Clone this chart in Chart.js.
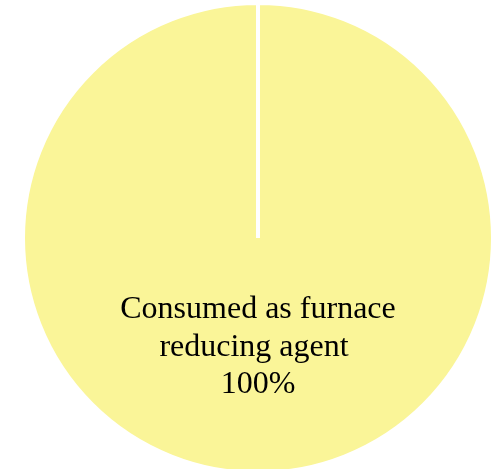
<!DOCTYPE html>
<html>
<head>
<meta charset="utf-8">
<script src="https://cdn.jsdelivr.net/npm/chart.js@4/dist/chart.umd.min.js"></script>
<style>
  html, body { margin: 0; padding: 0; background: #fff; overflow: hidden; }
  #wrap { position: absolute; left: 0; top: 1px; width: 516px; height: 474px; }
</style>
</head>
<body>
<div id="wrap"><canvas id="pie"></canvas></div>
<script>
// data
const categories = [['Consumed as furnace', 'reducing agent ']];
const values = [100];
const colors = ['#FAF598'];

// draws the label + percent inside the slice
const sliceLabels = {
  id: 'sliceLabels',
  afterDatasetsDraw(chart) {
    const ctx = chart.ctx;
    const meta = chart.getDatasetMeta(0);
    const total = values.reduce((a, b) => a + b, 0);
    meta.data.forEach((arc, i) => {
      const r = arc.outerRadius;
      const lines = categories[i].concat([Math.round(values[i] / total * 100) + '%']);
      ctx.save();
      ctx.font = '32px "Liberation Serif", "Times New Roman", serif';
      ctx.fillStyle = '#000';
      ctx.textAlign = 'center';
      ctx.textBaseline = 'alphabetic';
      const offs = [0.34, 0.5, 0.66];
      lines.forEach((t, k) => {
        ctx.fillText(t, arc.x, arc.y + r * offs[k]);
      });
      ctx.restore();
    });
  }
};

new Chart(document.getElementById('pie').getContext('2d'), {
  type: 'pie',
  data: {
    labels: categories,
    datasets: [{
      data: values,
      backgroundColor: colors,
      borderColor: '#ffffff',
      borderWidth: 4
    }]
  },
  options: {
    responsive: true,
    maintainAspectRatio: false,
    animation: false,
    layout: { padding: 0 },
    plugins: {
      legend: { display: false },
      tooltip: { enabled: false }
    }
  },
  plugins: [sliceLabels]
});
</script>
</body>
</html>
